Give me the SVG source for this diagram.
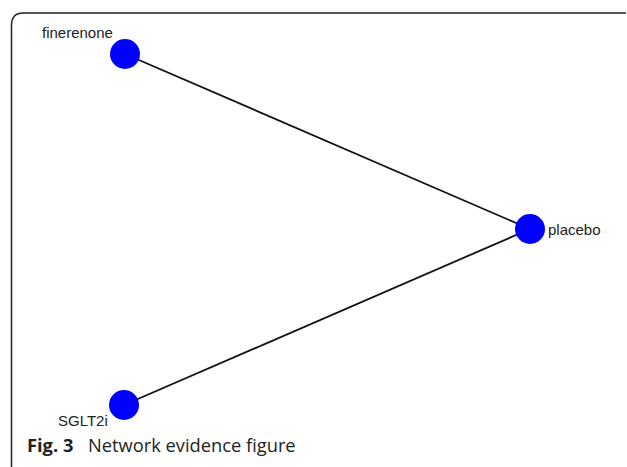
<svg xmlns="http://www.w3.org/2000/svg" width="627" height="467" viewBox="0 0 627 467">
<style>
.node{fill:#0000ff;}
.lbl{font-family:"Liberation Sans",Arial,sans-serif;font-size:15px;fill:#222;}
.edge{stroke:#111;stroke-width:1.8;fill:none;}
.cap{font-family:"Open Sans",sans-serif;font-size:18.3px;fill:#222;}
</style>
<rect width="627" height="467" fill="#fff"/>
<path d="M11.5,467 L11.5,25 Q11.5,13 23.5,13 L626,13" fill="none" stroke="#222" stroke-width="1.5"/>
<g id="connectors">
<line class="edge" x1="125" y1="54" x2="530" y2="229"/>
<line class="edge" x1="124" y1="405" x2="530" y2="229"/>
</g>
<g id="finerenone">
<circle class="node" cx="125" cy="54" r="15"/>
<text class="lbl" x="42" y="38">finerenone</text>
</g>
<g id="placebo">
<circle class="node" cx="530" cy="229" r="15"/>
<text class="lbl" x="548" y="235">placebo</text>
</g>
<g id="SGLT2i">
<circle class="node" cx="124" cy="405" r="15"/>
<text class="lbl" x="58" y="426">SGLT2i</text>
</g>
<text class="cap" x="27" y="452"><tspan font-weight="bold">Fig. 3</tspan><tspan x="88">Network evidence figure</tspan></text>
</svg>
